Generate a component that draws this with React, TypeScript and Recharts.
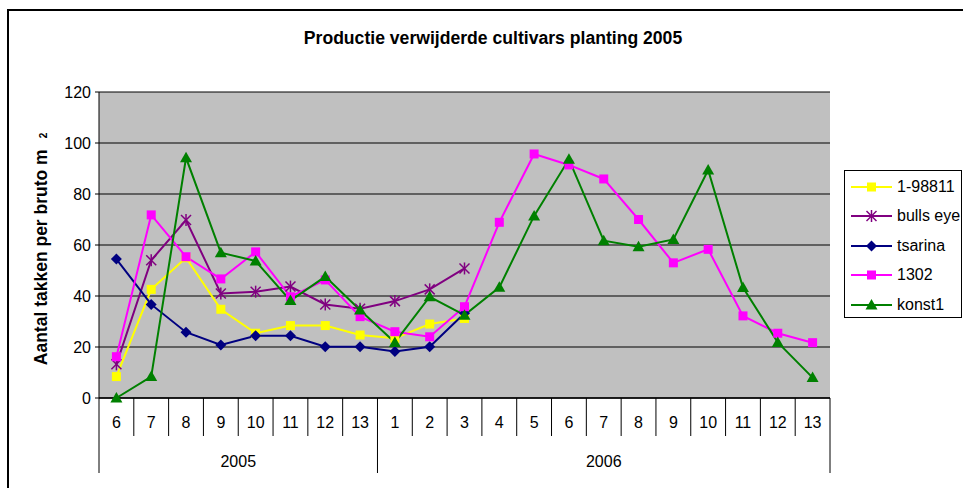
import { LineChart, Line, XAxis, YAxis, CartesianGrid } from 'recharts';

const FONT = '"Liberation Sans", Arial, sans-serif';

const monthLabels = ['6', '7', '8', '9', '10', '11', '12', '13', '1', '2', '3', '4', '5', '6', '7', '8', '9', '10', '11', '12', '13'];
const yearLabels = [
  '2005', '2005', '2005', '2005', '2005', '2005', '2005', '2005',
  '2006', '2006', '2006', '2006', '2006', '2006', '2006', '2006', '2006', '2006', '2006', '2006', '2006',
];

const cultivar1 = [8.4, 42.6, 55, 34.8, 25.4, 28.4, 28.4, 24.7, 23.4, 29, 31.2, null, null, null, null, null, null, null, null, null, null];
const bullsEye = [13.2, 54, 69.8, 41, 41.7, 43.7, 36.7, 35, 38, 42.6, 50.8, null, null, null, null, null, null, null, null, null, null];
const tsarina = [54.5, 36.7, 25.8, 20.8, 24.4, 24.4, 20.1, 20.1, 18.2, 20.1, 33.2, null, null, null, null, null, null, null, null, null, null];
const c1302 = [16.2, 71.8, 55.4, 46.7, 57.3, 39.7, 46.3, 31.9, 26, 24, 35.8, 68.9, 95.7, 91.4, 85.9, 70, 53, 58.3, 32.2, 25.4, 21.7];
const konst1 = [0, 8.4, 94.2, 57, 53.7, 38.2, 47.6, 34.5, 21.8, 39.7, 32.5, 43.4, 71.4, 93.6, 61.7, 59.3, 62.2, 89.4, 43.3, 21.8, 8];

const yTicks = [0, 20, 40, 60, 80, 100, 120];

type MarkerKind = 'square' | 'star' | 'diamond' | 'triangle';

const series: { key: string; name: string; color: string; marker: MarkerKind; values: (number | null)[] }[] = [
  { key: 'c1', name: '1-98811', color: '#FFFF00', marker: 'square', values: cultivar1 },
  { key: 'be', name: 'bulls eye', color: '#800080', marker: 'star', values: bullsEye },
  { key: 'ts', name: 'tsarina', color: '#000080', marker: 'diamond', values: tsarina },
  { key: 'c1302', name: '1302', color: '#FF00FF', marker: 'square', values: c1302 },
  { key: 'k1', name: 'konst1', color: '#008000', marker: 'triangle', values: konst1 },
];

const data = monthLabels.map((m, i) => {
  const row: Record<string, string | number | null> = { idx: i, month: m, year: yearLabels[i] };
  series.forEach((s) => {
    row[s.key] = s.values[i];
  });
  return row;
});

// plot area in page pixels
const W = 963;
const H = 488;
const PLOT_LEFT = 99;
const PLOT_RIGHT = 830;
const PLOT_TOP = 92;
const PLOT_BOTTOM = 398;
const STEP = (PLOT_RIGHT - PLOT_LEFT) / monthLabels.length;

function Marker({ kind, color, x, y }: { kind: MarkerKind; color: string; x: number; y: number }) {
  if (kind === 'square') {
    return <rect x={x - 4.5} y={y - 4.5} width={9} height={9} fill={color} />;
  }
  if (kind === 'diamond') {
    return <polygon points={`${x},${y - 5.5} ${x + 5.5},${y} ${x},${y + 5.5} ${x - 5.5},${y}`} fill={color} />;
  }
  if (kind === 'triangle') {
    return <polygon points={`${x},${y - 6} ${x + 6},${y + 4.5} ${x - 6},${y + 4.5}`} fill={color} />;
  }
  return (
    <g stroke={color} strokeWidth={1.5}>
      <line x1={x - 5} y1={y - 5} x2={x + 5} y2={y + 5} />
      <line x1={x - 5} y1={y + 5} x2={x + 5} y2={y - 5} />
      <line x1={x} y1={y - 6} x2={x} y2={y + 6} />
    </g>
  );
}

function makeDot(kind: MarkerKind, color: string, key: string) {
  return (props: any) => {
    const { cx, cy, index, value } = props;
    if (cx == null || cy == null || value == null || Number.isNaN(cy)) return <g key={`${key}-${index}`} />;
    return (
      <g key={`${key}-${index}`}>
        <Marker kind={kind} color={color} x={cx} y={cy} />
      </g>
    );
  };
}

function MonthTick(props: any) {
  const { x, index } = props;
  const left = x - STEP / 2;
  const isYearStart = index === 0 || yearLabels[index] !== yearLabels[index - 1];
  const isLast = index === monthLabels.length - 1;
  let yearText = null;
  if (isYearStart) {
    const count = yearLabels.filter((y) => y === yearLabels[index]).length;
    yearText = (
      <text x={left + (count * STEP) / 2} y={467} textAnchor="middle" fontSize={16} fontFamily={FONT} fill="#000">
        {yearLabels[index]}
      </text>
    );
  }
  return (
    <g>
      <line x1={left} y1={PLOT_BOTTOM} x2={left} y2={isYearStart ? 473 : 436} stroke="#000" strokeWidth={1} />
      {isLast && <line x1={x + STEP / 2} y1={PLOT_BOTTOM} x2={x + STEP / 2} y2={473} stroke="#000" strokeWidth={1} />}
      <text x={x} y={428} textAnchor="middle" fontSize={16} fontFamily={FONT} fill="#000">
        {monthLabels[index]}
      </text>
      {yearText}
    </g>
  );
}

function YLabel() {
  return (
    <text
      transform="translate(47, 249) rotate(-90)"
      textAnchor="middle"
      fontSize={17.5}
      fontWeight="bold"
      fontFamily={FONT}
      fill="#000"
    >
      Aantal takken per bruto m
      <tspan dx={11} fontSize={10}>2</tspan>
    </text>
  );
}

function LegendBox() {
  return (
    <div
      style={{
        position: 'absolute',
        left: 844,
        top: 170,
        width: 116,
        height: 145,
        border: '1px solid #000',
        background: '#fff',
        boxSizing: 'content-box',
        paddingTop: 1,
      }}
    >
      {series.map((s) => (
        <div key={s.key} style={{ display: 'flex', alignItems: 'center', height: 29.5 }}>
          <svg width={52} height={20} style={{ display: 'block' }}>
            <line x1={6} y1={10} x2={47} y2={10} stroke={s.color} strokeWidth={2} />
            <Marker kind={s.marker} color={s.color} x={26.5} y={10} />
          </svg>
          <span style={{ fontFamily: FONT, fontSize: 16, color: '#000', whiteSpace: 'nowrap' }}>{s.name}</span>
        </div>
      ))}
    </div>
  );
}

export default function App() {
  return (
    <div style={{ position: 'absolute', left: 0, top: 0, width: W, height: H, overflow: 'hidden', background: '#fff' }}>
      <div
        style={{
          position: 'absolute',
          left: 7,
          top: 9,
          width: W + 20,
          height: H + 20,
          border: '2px solid #000',
          boxSizing: 'border-box',
        }}
      />
      <div
        style={{
          position: 'absolute',
          left: 0,
          top: 28,
          width: 986,
          textAlign: 'center',
          fontFamily: FONT,
          fontWeight: 'bold',
          fontSize: 17.6,
          lineHeight: '20px',
          color: '#000',
        }}
      >
        Productie verwijderde cultivars planting 2005
      </div>
      <div style={{ position: 'absolute', left: 0, top: 0 }}>
        <LineChart
          width={W}
          height={H}
          data={data}
          margin={{ top: PLOT_TOP, right: W - PLOT_RIGHT, bottom: 0, left: 0 }}
        >
          <CartesianGrid vertical={false} stroke="#000" strokeWidth={1} fill="#C0C0C0" fillOpacity={1} />
          <XAxis
            dataKey="idx"
            type="category"
            interval={0}
            padding={{ left: STEP / 2, right: STEP / 2 }}
            height={H - PLOT_BOTTOM}
            axisLine={{ stroke: '#000', strokeWidth: 1.5 }}
            tickLine={false}
            tick={<MonthTick />}
          />
          <XAxis xAxisId="top" orientation="top" dataKey="idx" height={0} tick={false} tickLine={false} axisLine={{ stroke: '#808080' }} />
          <YAxis
            domain={[0, 120]}
            ticks={yTicks}
            interval={0}
            width={PLOT_LEFT}
            tickSize={4}
            tickMargin={4}
            axisLine={{ stroke: '#000' }}
            tickLine={{ stroke: '#000' }}
            tick={{ fill: '#000', fontSize: 16, fontFamily: FONT }}
            label={<YLabel />}
          />
          <YAxis yAxisId="right" orientation="right" width={0} tick={false} tickLine={false} axisLine={{ stroke: '#808080', strokeWidth: 2 }} />
          {series.map((s) => (
            <Line
              key={s.key}
              dataKey={s.key}
              name={s.name}
              type="linear"
              stroke={s.color}
              strokeWidth={2}
              dot={makeDot(s.marker, s.color, s.key)}
              activeDot={false}
              isAnimationActive={false}
            />
          ))}
        </LineChart>
      </div>
      <LegendBox />
    </div>
  );
}
